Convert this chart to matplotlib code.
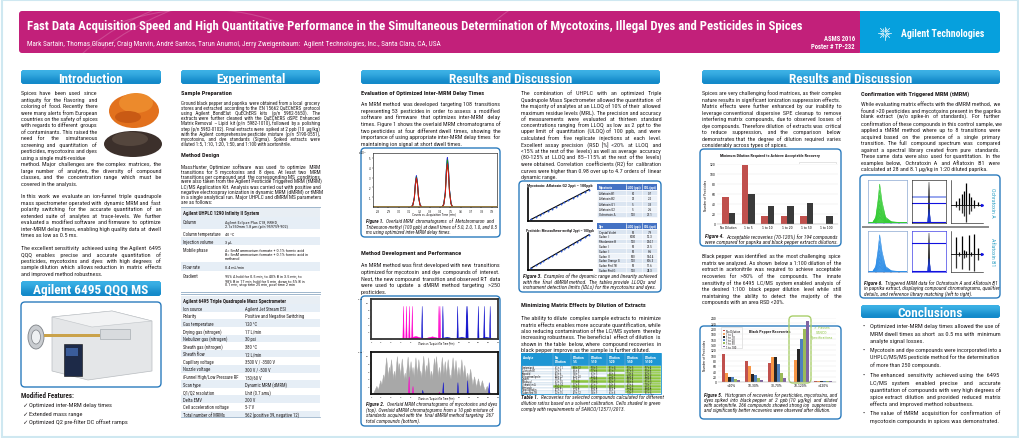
import math
import matplotlib
matplotlib.use('Agg')
import matplotlib.pyplot as plt
from matplotlib.patches import Rectangle, FancyBboxPatch, Ellipse, Polygon, Arc
from matplotlib.font_manager import FontProperties, fontManager
from functools import lru_cache

W, H = 1020, 439

fig4_cats = ['No Dilution', '1 to 5', '1 to 10', '1 to 20', '1 to 50', '1 to 100']
fig4_paprika = [55, 118, 16, 16, 16, 0]
fig4_pepper = [23, 61, 36, 36, 42, 16]

fig5_bins = ['<10%', '10-30%', '30-70%', '70-120%', '>120%']
fig5_series = ['No Dilution', '1 to 5', '1 to 10', '1 to 20', '1 to 50', '1 to 100']
fig5_no_dil = [106, 78, 71, 1, 4]
fig5_1to5 = [33, 60, 95, 81, 4]
fig5_1to10 = [19, 30, 94, 125, 4]
fig5_1to20 = [17, 28, 66, 160, 4]
fig5_1to50 = [11, 14, 33, 198, 4]
fig5_1to100 = [9, 9, 14, 229, 4]
fig5_colors = ['#c0504d', '#f79646', '#262626', '#4f81bd', '#9bbb59', '#8064a2']

fig1_dwell = ['5.0 ms', '2.0 ms', '1.0 ms', '0.5 ms']
fig1_colors = ['#5a5a9a', '#2222dd', '#119911', '#e01010']
fig1_rt = [3.17, 3.47]
fig1_h_meto = [3.15, 3.2, 3.05, 2.95]
fig1_h_trib = [5.0, 5.05, 4.8, 4.4]
fig1_prof_dt = [-0.05, -0.035, -0.02, -0.01, 0.0, 0.01, 0.02, 0.035, 0.05]
fig1_prof_y = [0.0, 0.06, 0.3, 0.75, 1.0, 0.78, 0.35, 0.07, 0.0]

fig2_top_myco_rt = [4.33, 4.63, 4.93, 5.23, 7.96, 8.06]
fig2_top_myco_h = [0.9, 0.9, 0.9, 0.9, 0.9, 0.9]
fig2_top_dye_rt = [6.24, 8.36, 9.87, 10.78, 10.88, 11.99, 12.6, 13.2]
fig2_top_dye_h = [0.9, 0.9, 0.9, 0.9, 0.9, 0.9, 0.9, 0.9]
fig2_bot_pest_rt = [1.6, 2.0, 2.3, 2.6, 2.9, 3.1, 3.4, 3.7, 3.9, 4.2, 4.5, 4.8, 5.1, 5.3,
                    5.6, 5.9, 6.1, 6.4, 6.7, 6.9, 7.2, 7.5, 7.7, 8.0, 8.3, 8.6, 8.9, 9.1,
                    9.4, 9.7, 10.0, 10.3, 10.6, 10.9, 11.2, 11.6, 12.0, 12.4, 12.9]
fig2_bot_pest_h = [0.2, 0.35, 0.5, 0.95, 0.7, 0.9, 0.6, 0.98, 0.8, 0.92, 0.55, 0.97, 0.85,
                   0.7, 0.95, 0.9, 0.6, 0.99, 0.75, 0.95, 0.6, 0.93, 0.98, 0.7, 0.96, 0.85,
                   0.9, 0.5, 0.95, 0.88, 0.7, 0.9, 0.75, 0.55, 0.65, 0.45, 0.4, 0.35, 0.2]
fig2_bot_myco_rt = [4.9, 5.3, 8.0]
fig2_bot_myco_h = [0.45, 0.2, 0.05]
fig2_bot_dye_rt = [6.3, 8.4, 9.9, 10.9, 13.1]
fig2_bot_dye_h = [0.1, 0.3, 0.3, 0.35, 0.3]

fig3_conc = [0.002, 0.005, 0.01, 0.02, 0.05, 0.1, 0.2, 0.5, 1, 2, 5, 10, 20, 50, 100]
fig3_resp_afla = [0.0021, 0.0048, 0.0103, 0.0196, 0.051, 0.098, 0.205, 0.49, 1.02, 1.97, 5.1, 9.8, 20.4, 49, 101]
fig3_resp_meso = [0.0019, 0.0052, 0.0098, 0.0204, 0.049, 0.102, 0.196, 0.51, 0.98, 2.03, 4.9, 10.2, 19.6, 51, 99]
myco_tab = [('Aflatoxin B1', '10', '0.7'), ('Aflatoxin B2', '20', '2.2'), ('Aflatoxin G1', '5', '3.3'),
            ('Aflatoxin G2', '5', '2.6'), ('Ochratoxin A', '120', '27.1')]
dye_tab = [('Crystal Violet', '50', '7.9'), ('Sudan II', '1000', '12.3'), ('Rhodamine B', '120', '204.1'),
           ('Sudan I', '50', '21.5'), ('Sudan II', '50', '8.6'), ('Sudan III', '500', '154.4'),
           ('Sudan Orange G', '120', '106.3'), ('Sudan Red 7B', '50', '11.6'), ('Sudan Red G', '120', '24.3')]

rec_analytes = ['Acetamiprid', 'Aflatoxin B1', 'Boscalid', 'Chlorantraniliprole', 'Linuron',
                'Metalaxyl', 'Ochratoxin A', 'Pirimicarb', 'Pyraclostrobin', 'Sudan Red 7B']
rec_values = [['61 ± 11', '88 ± 12', '90 ± 3', '81 ± 4', '93 ± 5', '97 ± 4'],
              ['52 ± 9', '66 ± 8', '77 ± 6', '81 ± 7', '87 ± 5', '95 ± 6'],
              ['43 ± 6', '58 ± 7', '63 ± 5', '68 ± 8', '74 ± 6', '82 ± 5'],
              ['48 ± 12', '62 ± 10', '69 ± 6', '73 ± 7', '84 ± 9', '92 ± 8'],
              ['55 ± 8', '67 ± 7', '72 ± 6', '80 ± 5', '86 ± 4', '90 ± 6'],
              ['63 ± 10', '71 ± 8', '75 ± 6', '82 ± 7', '88 ± 6', '91 ± 5'],
              ['36 ± 14', '57 ± 9', '61 ± 7', '64 ± 8', '69 ± 6', '78 ± 7'],
              ['74 ± 6', '79 ± 5', '85 ± 4', '88 ± 4', '92 ± 3', '95 ± 4'],
              ['41 ± 11', '52 ± 9', '60 ± 8', '66 ± 7', '72 ± 6', '85 ± 5'],
              ['32 ± 15', '49 ± 12', '58 ± 9', '63 ± 8', '74 ± 7', '81 ± 6']]
rec_green = [[0, 1, 1, 1, 1, 1], [0, 0, 1, 1, 1, 1], [0, 0, 0, 0, 1, 1], [0, 0, 0, 1, 1, 1],
             [0, 0, 1, 1, 1, 1], [0, 1, 1, 1, 1, 1], [0, 0, 0, 0, 0, 1], [1, 1, 1, 1, 1, 1],
             [0, 0, 0, 0, 1, 1], [0, 0, 0, 0, 1, 1]]

f6_x = [0.0, 0.12, 0.2, 0.26, 0.3, 0.36, 0.45, 0.6, 1.0]
f6_y = [0.0, 0.01, 0.15, 0.6, 1.0, 0.55, 0.15, 0.03, 0.0]
f6_h = [0.95, 0.8, 0.68, 0.55, 0.45, 0.35, 0.25, 0.15]
f6_spec_mz = [0.15, 0.25, 0.33, 0.4, 0.48, 0.55, 0.62, 0.72, 0.85]
f6_spec_ochra = [0.15, 0.3, 0.45, 0.6, 0.95, 0.5, 0.35, 0.2, 0.1]
f6_spec_afla = [0.8, 0.1, 0.85, 0.2, 0.15, 0.9, 0.1, 0.95, 0.3]

# ---------------- fonts ----------------
avail = {f.name for f in fontManager.ttflist}
NARROW = next((f for f in ['Liberation Sans Narrow', 'Roboto Condensed', 'Open Sans Condensed']
               if f in avail), 'DejaVu Sans')
FAMS = [NARROW, 'DejaVu Sans']
TXT = '#231f20'

fig = plt.figure(figsize=(W / 100, H / 100), dpi=100)
fig.patch.set_facecolor('white')
bg = fig.add_axes([0, 0, 1, 1])
bg.set_xlim(0, W)
bg.set_ylim(H, 0)
bg.axis('off')
R = fig.canvas.get_renderer()


@lru_cache(maxsize=None)
def fp(size, bold=False, italic=False):
    return FontProperties(family=FAMS, size=size, weight='bold' if bold else 'normal',
                          style='italic' if italic else 'normal')


def tw(s, p):
    return R.get_text_width_height_descent(s, p, ismath=False)[0]


def put(x, y, s, size, bold=False, italic=False, color=TXT, ha='left', maxw=None, rot=0, ax=None):
    p = fp(size, bold, italic)
    if maxw is not None:
        w = tw(s, p)
        if w > maxw:
            p = fp(round(size * maxw / w, 3), bold, italic)
    tgt = ax if ax is not None else bg
    if rot:
        return tgt.text(x, y, s, fontproperties=p, color=color, ha=ha, va='center', rotation=rot)
    return tgt.text(x, y + 0.5 * p.get_size(), s, fontproperties=p, color=color, ha=ha, va='baseline')


def spaced(words, extra):
    # join words, spreading `extra` additional spaces evenly over the gaps
    gaps = len(words) - 1
    out = words[0]
    for i in range(gaps):
        n = 1 + (i + 1) * extra // gaps - i * extra // gaps
        out += ' ' * n + words[i + 1]
    return out


def block(lines, x0, x1, y, pitch, size, bold=False, italic=False, color=TXT, justify=True, lead_bold=0):
    s = size
    for ln in lines:
        if ln:
            w = tw(ln, fp(size, bold, italic))
            if w > x1 - x0:
                s = min(s, size * (x1 - x0) / w)
    s = round(s, 3)
    p = fp(s, bold, italic)
    sp = tw('a a', p) - tw('aa', p)
    for i, ln in enumerate(lines):
        if not ln:
            continue
        yy = y + i * pitch + 0.5 * s
        last = i == len(lines) - 1 or lines[i + 1] == ''
        words = ln.split()
        x = x0
        if i == 0 and lead_bold:
            pb = fp(s, True, italic)
            pre = ' '.join(words[:lead_bold])
            bg.text(x, yy, pre, fontproperties=pb, color=color, ha='left', va='baseline')
            x += tw(pre + '  ', pb)
            words = words[lead_bold:]
        txt = ' '.join(words)
        if justify and not last and len(words) > 1:
            extra = int(round((x1 - x - tw(txt, p)) / sp))
            if 0 < extra <= 4 * (len(words) - 1):
                txt = spaced(words, extra)
        bg.text(x, yy, txt, fontproperties=p, color=color, ha='left', va='baseline')


def px_axes(x0, y0, x1, y1):
    return fig.add_axes([x0 / W, 1 - y1 / H, (x1 - x0) / W, (y1 - y0) / H])


def section(x0, x1, y0, y1, label):
    patch = FancyBboxPatch((x0, y0), x1 - x0, y1 - y0, boxstyle='round,pad=0,rounding_size=3',
                           fc='#1a98d5', ec='none')
    bg.add_patch(patch)
    im = bg.imshow([[0.0], [1.0]], extent=(x0, x1, y1, y0), cmap=matplotlib.colors.LinearSegmentedColormap.from_list(
        'b', ['#3db2e6', '#1288c8']), aspect='auto', interpolation='bicubic', zorder=2)
    im.set_clip_path(patch)
    t = put((x0 + x1) / 2, (y0 + y1) / 2, label, 9.5, bold=True, color='white', ha='center')
    t.set_zorder(3)


def fig_box(x0, y0, x1, y1):
    bg.add_patch(FancyBboxPatch((x0, y0), x1 - x0, y1 - y0, boxstyle='round,pad=0,rounding_size=4',
                                fc='white', ec='#2b7bbd', lw=1.0))


def tiny_axes(ax, fs=2.0):
    ax.tick_params(labelsize=fs, length=1, width=0.3, pad=0.6)
    for sp_ in ax.spines.values():
        sp_.set_linewidth(0.4)


# ---------------- frame & header ----------------
bg.add_patch(Rectangle((2, 1), W - 4, H - 2, fc='white', ec='#cfe8f1', lw=1.5))
hdr = FancyBboxPatch((19, 12), 843, 42, boxstyle='round,pad=0,rounding_size=3', fc='#c2207a', ec='none')
bg.add_patch(hdr)
for cx, cy, rw, a0, a1 in [(300, 140, 520, 200, 300), (340, 160, 600, 205, 290), (620, 120, 560, 210, 300),
                           (660, 90, 400, 200, 320), (200, 100, 300, 220, 320)]:
    arc = Arc((cx, cy), rw, rw * 0.6, theta1=a0, theta2=a1, color='white', alpha=0.18, lw=0.8, zorder=2)
    bg.add_patch(arc)
    arc.set_clip_path(hdr)
bg.add_patch(FancyBboxPatch((862, 12), 138, 42, boxstyle='round,pad=0,rounding_size=3', fc='#06a0dd', ec='none'))
bg.add_patch(Rectangle((860, 12), 6, 42, fc='#06a0dd', ec='none'))
put(27, 25, 'Fast Data Acquisition Speed and High Quantitative Performance in the Simultaneous Determination '
    'of Mycotoxins, Illegal Dyes and Pesticides in Spices', 11, bold=True, color='white', maxw=772).set_zorder(4)
put(27, 43, 'Mark Sartain, Thomas Glauner, Craig Marvin, André Santos, Tarun Anumol, Jerry Zweigenbaum:  '
    'Agilent Technologies, Inc., Santa Clara, CA, USA', 5.2, color='white', maxw=443).set_zorder(4)
put(855, 38.5, 'ASMS 2016', 4.8, bold=True, color='white', ha='right').set_zorder(4)
put(855, 47, 'Poster # TP-232', 4.8, bold=True, color='white', ha='right').set_zorder(4)
for k in range(16):
    ang = k * math.pi / 8
    r0, r1 = (1.5, 6.5) if k % 2 == 0 else (2.0, 4.5)
    bg.plot([885 + r0 * math.cos(ang), 885 + r1 * math.cos(ang)],
            [34 + r0 * math.sin(ang), 34 + r1 * math.sin(ang)], color='white', lw=0.5, zorder=4)
put(901, 34, 'Agilent Technologies', 7.5, bold=True, color='white', maxw=82).set_zorder(4)

# ---------------- section headers ----------------
section(21, 161, 71, 85, 'Introduction')
section(181, 320, 71, 85, 'Experimental')
section(361, 660, 71, 85, 'Results and Discussion')
section(702, 1000, 71, 85, 'Results and Discussion')
section(21, 161, 282, 297, 'Agilent 6495 QQQ MS')
section(861, 1000, 306, 319, 'Conclusions')

# ---------------- column 1: introduction ----------------
block(['Spices have been used since', 'antiquity for the flavoring and', 'coloring of food. Recently there',
       'were many alerts from European', 'countries on the safety of spices', 'with regards to different groups',
       'of contaminants. This raised the', 'need for the simultaneous', 'screening and quantitation of',
       'pesticides, mycotoxins and dyes', 'using a single multi-residue'], 21, 97, 93, 6.45, 4.6)
block(['method.  Major challenges are the complex matrices, the',
       'large number of analytes, the diversity of compound',
       'classes, and the concentration range which must be', 'covered in the analysis.', '',
       'In this work we evaluate an ion-funnel triple quadrupole',
       'mass spectrometer operated with dynamic MRM and fast',
       'polarity switching for the accurate quantitation of an',
       'extended suite of analytes at trace-levels.  We further',
       'evaluated a modified software and firmware to optimize',
       'inter-MRM delay times, enabling high quality data at dwell', 'times as low as 0.5 ms.', '',
       'The excellent sensitivity achieved using the Agilent 6495',
       'QQQ enables precise and accurate quantitation of',
       'pesticides, mycotoxins and dyes with high degrees of',
       'sample dilution which allows reduction in matrix effects',
       'and improved method robustness.'], 21, 161, 164, 6.45, 4.6)
# spice photo
bg.add_patch(Ellipse((134, 112), 50, 34, fc='#e2711d', ec='none'))
bg.add_patch(Ellipse((136, 104), 34, 20, fc='#ec8a2c', ec='none'))
bg.add_patch(Ellipse((128, 118), 26, 12, fc='#c95a14', ec='none'))
bg.add_patch(Ellipse((133, 145), 58, 26, fc='#3c302b', ec='none'))
bg.add_patch(Ellipse((130, 140), 36, 14, fc='#54463d', ec='none'))
# instrument image
fig_box(21, 303, 161, 388)
bg.add_patch(Polygon([(52, 318), (112, 312), (152, 322), (152, 372), (88, 381), (52, 372)], fc='#e4e6e8', ec='#b8bcc0', lw=0.5))
bg.add_patch(Polygon([(52, 318), (112, 312), (152, 322), (92, 328)], fc='#f2f3f4', ec='#c0c4c8', lw=0.4))
bg.add_patch(Rectangle((64, 345), 18, 32, fc='#1d2a48', ec='#111', lw=0.4))
bg.add_patch(Rectangle((66, 349), 12, 8, fc='#3a5c9a', ec='none'))
bg.add_patch(Ellipse((36, 338), 16, 24, fc='#c9ccd0', ec='#7d8186', lw=0.6))
bg.add_patch(Ellipse((36, 338), 9, 14, fc='#eef0f2', ec='#7d8186', lw=0.5))
bg.add_patch(Rectangle((44, 335), 56, 3, fc='#caa24a', ec='none'))
bg.add_patch(Rectangle((100, 330), 30, 10, fc='#d8dbde', ec='#9aa0a6', lw=0.4))
put(21, 396, 'Modified Features:', 5.0, bold=True)
for i, s in enumerate(['Optimized inter-MRM delay times', 'Extended mass range',
                       'Optimized Q2 pre-filter DC offset ramps']):
    put(22, 405 + 8.5 * i, '\u2713', 4.6)
    put(29, 405 + 8.5 * i, s, 4.6)

# ---------------- column 2: experimental ----------------
put(181, 93, 'Sample Preparation', 4.6, bold=True)
block(['Ground black pepper and paprika were obtained from a local grocery',
       'stores and extracted according to the EN 15662 QuEChERS protocol',
       'using Agilent BondElut QuEChERS kits (p/n 5982-5650).  The',
       'extracts were further cleaned with the QuEChERS dSPE Enhanced',
       'Matrix Removal \u2013 Lipid kit (p/n 5982-1010), followed by a polishing',
       'step (p/n 5982-0102).  Final extracts were spiked at 2 ppb (10 µg/kg)',
       'with the Agilent comprehensive pesticide mixture (p/n 5190-0551),',
       'mycotoxins, and dye standards (Sigma).   Spiked extracts were',
       'diluted 1:5, 1:10, 1:20, 1:50, and 1:100 with acetonitrile.'], 181, 320, 103, 5.1, 4.0)
put(181, 155, 'Method Design', 4.6, bold=True)
block(['MassHunter Optimizer software was used to optimize MRM',
       'transitions for 5 mycotoxins and 8 dyes.   At least two MRM',
       'transitions per compound and the corresponding MS conditions',
       'were also taken from the Agilent Pesticide Triggered MRM (tMRM)',
       'LC/MS Application Kit.  Analysis was carried out with positive and',
       'negative electrospray ionization in dynamic MRM (dMRM) or tMRM',
       'in a single analytical run.  Major UHPLC and dMRM MS parameters',
       'are as follows:'], 181, 320, 167, 5.0, 4.0)

tab1 = [('Column', ['Agilent Eclipse Plus C18, RRHD,', '2.1x150mm 1.8 µm (p/n 959759-902)'], 218, 230),
        ('Column temperature', ['40 °C'], 230, 238),
        ('Injection volume', ['3 µL'], 238, 246),
        ('Mobile phase', ['A= 5mM ammonium formate + 0.1% formic acid',
                          'B= 5mM ammonium formate + 0.1% formic acid in', 'methanol'], 246, 263),
        ('Flow rate', ['0.4 mL/min'], 263, 272),
        ('Gradient', ['95% A hold for 0.5 min, to 40% B in 3.5 min, to',
                      '98% B in 17 min, hold for 5 min, down to 5% B in',
                      '0.1 min, stop time 25 min, post time 2 min'], 272, 292)]
bg.plot([181, 320], [208, 208], color='#9fb6cc', lw=0.7)
bg.add_patch(Rectangle((181, 209), 139, 9, fc='#e8eef4', ec='none'))
put(183, 213.5, 'Agilent UHPLC 1290 Infinity II System', 3.6, bold=True)
for i, (lab, vals, y0, y1) in enumerate(tab1):
    if i % 2 == 0:
        bg.add_patch(Rectangle((181, y0), 139, y1 - y0, fc='#e6eef6', ec='none'))
    ys = y0 + 4 if len(vals) > 1 else (y0 + y1) / 2
    put(183, ys, lab, 3.3, maxw=40)
    for j, v in enumerate(vals):
        put(225, ys + 4.3 * j, v, 3.1, maxw=94)
bg.plot([181, 320], [292.5, 292.5], color='#9fb6cc', lw=0.7)
bg.plot([181, 320], [294.5, 294.5], color='#9fb6cc', lw=0.7)

tab2 = [('Ion source', 'Agilent Jet Stream ESI'), ('Polarity', 'Positive and Negative Switching'),
        ('Gas temperature', '120 °C'), ('Drying gas (nitrogen)', '17 L/min'),
        ('Nebulizer gas (nitrogen)', '30 psi'), ('Sheath gas (nitrogen)', '380 °C'),
        ('Sheath flow', '12 L/min'), ('Capillary voltage', '3500 V / -3500 V'),
        ('Nozzle voltage', '300 V / -500 V'), ('iFunnel High/Low Pressure RF', '150/60 V'),
        ('Scan type', 'Dynamic MRM (dMRM)'), ('Q1/Q2 resolution', 'Unit (0.7 amu)'),
        ('Delta EMV', '200 V'), ('Cell acceleration voltage', '5-7 V'),
        ('Total number of MRMs', '562 (positive 39, negative 12)')]
bg.add_patch(Rectangle((181, 297), 139, 8, fc='#e8eef4', ec='none'))
put(183, 301, 'Agilent 6495 Triple Quadrupole Mass Spectrometer', 3.6, bold=True)
for i, (lab, val) in enumerate(tab2):
    yc = 309 + 7.6 * i
    if i % 2 == 0:
        bg.add_patch(Rectangle((181, yc - 3.8), 139, 7.6, fc='#e6eef6', ec='none'))
    put(183, yc, lab, 3.3, maxw=58)
    put(245, yc, val, 3.3, maxw=74)
bg.plot([181, 320], [418.5, 418.5], color='#9fb6cc', lw=0.6)

# ---------------- column 3 ----------------
put(361, 93, 'Evaluation of Optimized Inter-MRM Delay Times', 4.6, bold=True)
block(['An MRM method was developed targeting 108 transitions',
       'representing 53 pesticides in order to assess a modified',
       'software and firmware that optimizes inter-MRM delay',
       'times.  Figure 1 shows the overlaid MRM chromatograms of',
       'two pesticides at four different dwell times, showing the',
       'importance of using appropriate inter-MRM delay times for',
       'maintaining ion signal at short dwell times.'], 361, 500, 104, 6.6, 4.6)

fig_box(361, 149, 500, 238)
a1 = px_axes(373, 154, 497, 208)
for k in range(4):
    for rt, hh in zip(fig1_rt, [fig1_h_meto[k], fig1_h_trib[k]]):
        a1.plot([rt + d for d in fig1_prof_dt], [hh * v for v in fig1_prof_y], color=fig1_colors[k], lw=0.7)
a1.axhline(0.05, color='#8a6d2a', lw=2.0)
a1.set_xlim(2.75, 3.95)
a1.set_ylim(0, 5.5)
a1.set_xticks([2.8 + 0.1 * i for i in range(12)])
a1.set_xticklabels(['%.1f' % (2.8 + 0.1 * i) for i in range(12)])
a1.set_yticks([1, 2, 3, 4, 5])
tiny_axes(a1, 1.8)
a1.text(-0.06, 1.0, 'x10 \u00b3', transform=a1.transAxes, fontsize=1.8, ha='right')
put(434, 215, 'Counts vs. Acquisition Time (min)', 2.3, ha='center')
put(382, 158, 'Metobromuron', 2.6, color='#2b6cc4')
put(382, 162.5, '259.0 \u2192 170.0', 3.0, bold=True, color='#2b6cc4')
put(382, 168.5, 'Peak Area @ 0.5 ms', 2.0, color='#2b6cc4')
bg.plot([382, 401], [170.5, 170.5], color='#2b6cc4', lw=0.3)
put(382, 172.5, 'Peak Area @ 5.0 ms', 2.0, color='#2b6cc4')
put(403, 170.5, '= 0.94', 2.0, color='#2b6cc4')
put(452, 158, 'Tribenuron-methyl', 2.6, color='#2b6cc4')
put(452, 162.5, '396.0 \u2192 155.1', 3.0, bold=True, color='#2b6cc4')
put(452, 168.5, 'Peak Area @ 0.5 ms', 2.0, color='#2b6cc4')
bg.plot([452, 471], [170.5, 170.5], color='#2b6cc4', lw=0.3)
put(452, 172.5, 'Peak Area @ 5.0 ms', 2.0, color='#2b6cc4')
put(473, 170.5, '= 0.88', 2.0, color='#2b6cc4')
for k in range(4):
    bg.plot([472, 476], [187 + 5 * k, 187 + 5 * k], color=fig1_colors[k], lw=0.8)
    put(477.5, 187 + 5 * k, fig1_dwell[k], 2.8, color=fig1_colors[k])
block(['Figure 1.  Overlaid MRM chromatograms of Metobromuron and',
       'Tribenuron-methyl (100 ppb) at dwell times of 5.0, 2.0, 1.0, and 0.5',
       'ms using optimized inter-MRM delay times.'], 366, 494, 221.5, 5.4, 4.0, italic=True, lead_bold=2)

put(361, 253, 'Method Development and Performance', 4.6, bold=True)
block(['An MRM method was first developed with new transitions',
       'optimized for mycotoxin and dye compounds of interest.',
       'Next, the new compound transition and observed RT data',
       'were used to update a dMRM method targeting >250', 'pesticides.'], 361, 500, 265, 6.7, 4.6)

fig_box(361, 297, 500, 427)


def spikes(ax, rts, hs, color, hw):
    for rt, hh in zip(rts, hs):
        ax.fill([rt - hw, rt, rt + hw], [0, hh, 0], color=color, lw=0.3)


a2 = px_axes(371, 300, 498, 340)
spikes(a2, [5.6, 7.3], [0.07, 0.06], '#ff00cc', 0.9)
spikes(a2, [8.8, 10.3, 12.8], [0.05, 0.05, 0.05], '#1010cc', 0.7)
spikes(a2, fig2_top_myco_rt, fig2_top_myco_h, '#ff00cc', 0.07)
spikes(a2, fig2_top_dye_rt, fig2_top_dye_h, '#1010cc', 0.07)
a2.set_xlim(1, 14)
a2.set_ylim(0, 1.1)
a2.set_xticks(range(1, 15))
a2.set_yticks([0.2, 0.4, 0.6, 0.8, 1.0])
a2.set_yticklabels(['2', '4', '6', '8', '10'])
tiny_axes(a2, 1.6)
for s_ in a2.spines.values():
    s_.set_linewidth(1.3)
    s_.set_color('#333333')
a2.text(-0.06, 1.0, 'x10 \u2075', transform=a2.transAxes, fontsize=1.6, ha='right')
put(436, 344, 'Counts vs. Acquisition Time (min)', 2.0, ha='center')


def colored_title(x, y, parts, size):
    tot = sum(tw(s, fp(size)) for s, c in parts)
    xx = x - tot / 2
    for s, c in parts:
        bg.text(xx, y + 0.5 * size, s, fontproperties=fp(size), color=c, va='baseline', zorder=6)
        xx += tw(s, fp(size))


a3 = px_axes(371, 353, 498, 395)
spikes(a3, fig2_bot_pest_rt, fig2_bot_pest_h, '#a8a8a8', 0.35)
spikes(a3, fig2_bot_myco_rt, fig2_bot_myco_h, '#ff00cc', 0.07)
spikes(a3, fig2_bot_dye_rt, fig2_bot_dye_h, '#1010cc', 0.07)
a3.set_xlim(1, 14)
a3.set_ylim(0, 1.1)
a3.set_xticks(range(1, 15))
a3.set_yticks([0.2, 0.4, 0.6, 0.8, 1.0])
a3.set_yticklabels(['2', '4', '6', '8', '10'])
tiny_axes(a3, 1.6)
for s_ in a3.spines.values():
    s_.set_linewidth(1.3)
    s_.set_color('#111111')
a3.text(-0.06, 1.0, 'x10 \u2075', transform=a3.transAxes, fontsize=1.6, ha='right')
put(436, 399, 'Counts vs. Acquisition Time (min)', 2.0, ha='center')
colored_title(436, 303.5, [('MRM: ', '#111111'), ('5 Mycotoxins', '#ff00cc'), (', ', '#111111'),
                           ('8 Dyes', '#1010cc')], 2.9)
colored_title(436, 356.5, [('Final dMRM method: ', '#111111'), ('5 Mycotoxins', '#ff00cc'),
                           (', ', '#111111'), ('8 Dyes', '#1010cc'), (', 253 Pesticides', '#111111')], 2.9)
block(['Figure 2.  Overlaid MRM chromatograms of mycotoxins and dyes',
       '(top).  Overlaid dMRM chromatograms from a 10 ppb mixture of',
       'standards acquired with the final dMRM method targeting 267',
       'total compounds (bottom).'], 366, 494, 404, 5.6, 4.0, italic=True, lead_bold=2)

# ---------------- column 4 ----------------
block(['The combination of UHPLC with an optimized Triple',
       'Quadrupole Mass Spectrometer allowed the quantitation of',
       'the majority of analytes at an LLOQ of 10% of their allowed',
       'maximum residue levels (MRL). The precision and accuracy',
       'of measurements were evaluated at thirteen standard',
       'concentrations ranging from LLOQ as low as 2 ppt to the',
       'upper limit of quantitation (ULOQ) of 100 ppb, and were',
       'calculated from five replicate injections at each level.',
       'Excellent assay precision (RSD [%] <20% at LLOQ and',
       '<15% at the rest of the levels) as well as average accuracy',
       '(80-125% at LLOQ and 85\u2013115% at the rest of the levels)',
       'were obtained. Correlation coefficients (R2) for calibration',
       'curves were higher than 0.98 over up to 4.7 orders of linear',
       'dynamic range.'], 521, 661, 93, 6.46, 4.6)

fig_box(519, 182, 661, 293)
for (y0, y1, resp, title) in [(189, 222, fig3_resp_afla, 'Mycotoxin: Aflatoxin G2 2ppt \u2013 100ppb'),
                              (234, 271, fig3_resp_meso, 'Pesticide: Mesosulfuron-methyl 2ppt \u2013 100ppb')]:
    a = px_axes(528, y0, 592, y1)
    a.plot([fig3_conc[0], fig3_conc[-1]], [fig3_conc[0], fig3_conc[-1]], color='black', lw=0.8)
    a.plot(fig3_conc, resp, 'o', ms=1.4, color='#2f5bd8', mew=0)
    a.set_xscale('log')
    a.set_yscale('log')
    a.set_xticks([])
    a.set_yticks([])
    a.minorticks_off()
    a.spines['top'].set_visible(False)
    a.spines['right'].set_visible(False)
    a.spines['left'].set_linewidth(1.2)
    a.spines['bottom'].set_linewidth(1.2)
    put(560, y0 - 3, title, 3.0, bold=True, ha='center', maxw=68)


def small_table(x0, y0, hdr, rows, rh, hh):
    bg.add_patch(Rectangle((x0, y0), 60, hh, fc='#4472c4', ec='none'))
    put(x0 + 2, y0 + hh / 2, hdr[0], 2.4, bold=True, color='white')
    put(x0 + 36, y0 + hh / 2, hdr[1], 2.4, bold=True, color='white', ha='center')
    put(x0 + 53, y0 + hh / 2, hdr[2], 2.4, bold=True, color='white', ha='center')
    for i, (n, a, b) in enumerate(rows):
        yy = y0 + hh + i * rh
        bg.add_patch(Rectangle((x0, yy), 60, rh, fc='#dbe5f1' if i % 2 == 0 else '#eef3f9',
                               ec='white', lw=0.4))
        put(x0 + 2, yy + rh / 2, n, 2.3)
        put(x0 + 36, yy + rh / 2, a, 2.3, ha='center')
        put(x0 + 53, yy + rh / 2, b, 2.3, ha='center')
    bg.plot([x0 + 29, x0 + 29], [y0, y0 + hh + rh * len(rows)], color='white', lw=0.4)
    bg.plot([x0 + 45, x0 + 45], [y0, y0 + hh + rh * len(rows)], color='white', lw=0.4)


small_table(597, 185, ('Mycotoxin', 'LLOQ (ppt)', 'IDL (ppt)'), myco_tab, 5.4, 6)
small_table(597, 224, ('Dye', 'LLOQ (ppt)', 'IDL (ppt)'), dye_tab, 4.8, 6)
block(['Figure 3.  Examples of the dynamic range and linearity achieved',
       'with the final dMRM method.  The tables provide LLOQs and',
       'instrument detection limits (IDLs) for the mycotoxins and dyes.'], 523, 656, 276, 5.6, 4.0,
      italic=True, lead_bold=2)

put(521, 305, 'Minimizing Matrix Effects by Dilution of Extracts', 4.6, bold=True)
block(['The ability to dilute complex sample extracts to minimize',
       'matrix effects enables more accurate quantification, while',
       'also reducing contamination of the LC/MS system thereby',
       'increasing robustness.  The beneficial effect of dilution is',
       'shown in the table below, where compound recoveries in',
       'black pepper improve as the sample is further diluted.'], 521, 661, 318, 6.4, 4.6)

# recovery table
cx = [521, 553, 571, 589, 607, 625, 643, 661]
bg.add_patch(Rectangle((521, 354), 140, 13, fc='#1e96d4', ec='none'))
hdrs = [['Analyte'], ['No', 'Dilution'], ['Dilution', '1:5'], ['Dilution', '1:10'], ['Dilution', '1:20'],
        ['Dilution', '1:50'], ['Dilution', '1:100']]
for j, hl in enumerate(hdrs):
    for k, s in enumerate(hl):
        put(cx[j] + 1.5, 357.5 + 4 * k, s, 2.7, bold=True, color='white')
rh = 2.75
for i, name in enumerate(rec_analytes):
    yy = 367 + i * rh
    bg.add_patch(Rectangle((521, yy), 140, rh, fc='white', ec='#9bbbd9', lw=0.25))
    put(522, yy + rh / 2, name, 2.0, maxw=31)
    for j in range(6):
        if rec_green[i][j]:
            bg.add_patch(Rectangle((cx[j + 1], yy), 18, rh, fc='#8dc63f', ec='white', lw=0.25))
        put(cx[j + 1] + 2, yy + rh / 2, rec_values[i][j], 1.9)
for x in cx[1:-1]:
    bg.plot([x, x], [354, 367 + 10 * rh], color='#9bbbd9', lw=0.3)
bg.add_patch(Rectangle((521, 354), 140, 13 + 10 * rh, fc='none', ec='#1e96d4', lw=0.6))
block(['Table 1.  Recoveries for selected compounds calculated for different',
       'dilution ratios based on a solvent calibration.  Cells shaded in green',
       'comply with requirements of SANCO/12571/2013.'], 521, 661, 397.5, 5.6, 4.0,
      italic=True, lead_bold=2)

# ---------------- column 5 ----------------
block(['Spices are very challenging food matrices, as their complex',
       'nature results in significant ionization suppression effects.',
       'Matrix effects were further enhanced by our inability to',
       'leverage conventional dispersive SPE cleanup to remove',
       'interfering matrix compounds, due to observed losses of',
       'dye compounds. Therefore dilution of extracts was critical',
       'to reduce suppression, and the comparison below',
       'demonstrates that the degree of dilution required varies',
       'considerably across types of spices.'], 702, 841, 93, 6.5, 4.6)

fig_box(700, 150, 841, 247)
put(770, 155.5, 'Minimum Dilution Required to Achieve Acceptable Recovery', 3.0, bold=True, ha='center', maxw=130)
a4 = px_axes(717, 165, 838, 225)
xs = list(range(len(fig4_cats)))
a4.bar([x - 0.17 for x in xs], fig4_paprika, width=0.32, color='#c0504d')
a4.bar([x + 0.17 for x in xs], fig4_pepper, width=0.32, color='#3a3a3a')
a4.set_ylim(0, 120)
a4.set_xlim(-0.6, 5.6)
a4.set_yticks(range(0, 121, 20))
a4.set_xticks(xs)
a4.set_xticklabels(fig4_cats)
a4.tick_params(labelsize=2.2, length=0, pad=1)
for k, s_ in a4.spines.items():
    s_.set_visible(k == 'bottom')
    s_.set_linewidth(0.3)
    s_.set_color('#999999')
a4.grid(axis='y', color='#e4e4e4', lw=0.3)
a4.set_axisbelow(True)
put(706, 195, 'Number of Pesticides', 2.6, rot=90, ha='center')
bg.add_patch(Rectangle((799, 163), 37, 21, fc='white', ec='#cfcfcf', lw=0.4, zorder=5))
for k, (lab, col) in enumerate([('Paprika', '#c0504d'), ('Black Pepper', '#3a3a3a')]):
    bg.add_patch(Rectangle((802, 167 + 8 * k), 2.2, 2.2, fc=col, ec='none', zorder=6))
    put(806, 168 + 8 * k, lab, 3.2).set_zorder(6)
block(['Figure 4.  Acceptable recoveries (70-120%) for 194 compounds',
       'were compared for paprika and black pepper extracts dilutions.'], 705, 837, 236.5, 5.6, 4.0,
      italic=True, lead_bold=2)

block(['Black pepper was identified as the most challenging spice',
       'matrix we analyzed.  As shown below a 1:100 dilution of the',
       'extract in acetonitrile was required to achieve acceptable',
       'recoveries for >80% of the compounds.  The innate',
       'sensitivity of the 6495 LC/MS system enabled analysis of',
       'the desired 1:100 black pepper dilution level while still',
       'maintaining the ability to detect the majority of the',
       'compounds with an area RSD <20%.'], 702, 841, 256, 6.6, 4.6)

fig_box(700, 327, 841, 420)
put(770, 332, 'Black Pepper Recoveries', 3.0, bold=True, ha='center')
a5 = px_axes(718, 319, 836, 383)
series5 = [fig5_no_dil, fig5_1to5, fig5_1to10, fig5_1to20, fig5_1to50, fig5_1to100]
bw = 0.13
for k, vals in enumerate(series5):
    a5.bar([i + (k - 2.5) * bw for i in range(len(fig5_bins))], vals, width=bw * 0.92,
           color=fig5_colors[k], label=fig5_series[k])
a5.set_ylim(0, 240)
a5.set_xlim(-0.55, 4.55)
a5.set_yticks(range(0, 241, 20))
a5.set_xticks(range(len(fig5_bins)))
a5.set_xticklabels(fig5_bins)
a5.tick_params(labelsize=2.2, length=0, pad=1)
for k, s_ in a5.spines.items():
    s_.set_visible(k == 'bottom')
    s_.set_linewidth(0.3)
    s_.set_color('#999999')
a5.grid(axis='y', color='#e4e4e4', lw=0.3)
a5.set_axisbelow(True)
a5.patch.set_alpha(0)
put(705, 355, 'Number of Pesticides', 2.6, rot=90, ha='center')
bg.add_patch(Rectangle((721, 328), 21, 21, fc='white', ec='#cfcfcf', lw=0.4, zorder=5))
for k, lab in enumerate(fig5_series):
    bg.add_patch(Rectangle((723, 330.5 + 3.2 * k), 1.8, 1.8, fc=fig5_colors[k], ec='none', zorder=6))
    put(726, 331.4 + 3.2 * k, lab, 2.3).set_zorder(6)
bg.add_patch(FancyBboxPatch((789, 317), 22, 67, boxstyle='round,pad=0,rounding_size=4', fc='none',
                            ec='#a9cf6a', lw=1.0, zorder=6))
put(822, 327.5, '\u2713 Passes', 2.9, color='#8dc63f', ha='center')
put(822, 332.5, 'SANCO', 2.9, color='#8dc63f', ha='center')
put(822, 337.5, 'Specifications', 2.9, color='#8dc63f', ha='center')
block(['Figure 5.  Histogram of recoveries for pesticides, mycotoxins, and',
       'dyes  spiked into black pepper at 2 ppb (10 µg/kg) and diluted',
       'with acetonitrile.  266 compounds showed strong ion suppression',
       'and significantly better recoveries were observed after dilution.'], 704, 837, 395, 5.0, 3.8,
      italic=True, lead_bold=2)

# ---------------- column 6 ----------------
put(861, 93, 'Confirmation with Triggered MRM (tMRM)', 4.6, bold=True)
block(['While evaluating matrix effects with the dMRM method, we',
       'found >20 pesticides and mycotoxins present in the paprika',
       'blank extract (w/o spike-in of standards).  For further',
       'confirmation of these compounds in this control sample, we',
       'applied a tMRM method where up to 8 transitions were',
       'acquired based on the presence of a single primary',
       'transition.   The full compound spectrum was compared',
       'against a spectral library created from pure standards.',
       'These same data were also used for quantitation.  In the',
       'examples below, Ochratoxin A and Aflatoxin B1 were',
       'calculated at 28 and 8.1 µg/kg in 1:20 diluted paprika.'], 861, 1000, 104, 6.5, 4.6)

fig_box(860, 176, 1000, 299)
for row, (y0, y1, col, spec, name) in enumerate([(181, 224, '#33cc33', f6_spec_ochra, 'Ochratoxin A'),
                                                 (232, 273, '#2f8fe8', f6_spec_afla, 'Aflatoxin B1')]):
    ac = px_axes(868, y0, 907, y1)
    for hh in f6_h:
        ac.fill(f6_x, [hh * v for v in f6_y], color=col, alpha=0.25, lw=0.4)
        ac.plot(f6_x, [hh * v for v in f6_y], color=col, lw=0.4)
    ac.set_xlim(0, 1)
    ac.set_ylim(0, 1.05)
    ac.set_xticks([0.2, 0.4, 0.6, 0.8])
    ac.set_yticks([])
    tiny_axes(ac, 1.2)
    ac.set_xticklabels([])
    for s_ in ac.spines.values():
        s_.set_color('#6f93c6')
    bg.add_patch(Rectangle((886, y0 + 2), 19, 8, fc='white', ec='black', lw=0.5, zorder=6))
    for k in range(4):
        bg.plot([888, 903], [y0 + 3.8 + 1.5 * k] * 2, color=['#33cc33', '#ff4444', '#3355ff', '#ffaa00'][k],
                lw=0.5, ls=(0, (1, 1)), zorder=7)
    aq = px_axes(912, y0, 946, y1)
    aq.axhspan(0.6, 0.66, color='#9aa8ee' if row == 0 else '#ffffff', lw=0)
    aq.axhline(0.48 if row == 0 else 0.75, color='#1010e0', lw=0.8)
    aq.axhline(0.02, color='#1010e0', lw=0.8)
    aq.fill([0.47, 0.5, 0.53], [0, 1.0, 0], color='black', lw=0.3)
    aq.fill([0.45, 0.5, 0.56], [0, 0.35, 0], color='#1a3ad0', lw=0.3)
    aq.set_xlim(0, 1)
    aq.set_ylim(0, 1.05)
    aq.set_xticks([])
    aq.set_yticks([])
    tiny_axes(aq)
    if row == 1:
        for s_ in aq.spines.values():
            s_.set_color('#1010e0')
    asp = px_axes(951, y0, 983, y1)
    asp.vlines(f6_spec_mz, 0.45, [0.45 + 0.55 * v for v in spec], color='black', lw=0.9)
    asp.vlines(f6_spec_mz, [0.45 - 0.45 * v for v in spec], 0.45, color='#333333', lw=0.9)
    asp.axhline(0.45, color='black', lw=0.6)
    asp.plot([0.97], [0.45], marker='>', ms=1.5, color='#1010e0')
    asp.set_xlim(0, 1)
    asp.set_ylim(0, 1.05)
    asp.set_xticks([])
    asp.set_yticks([])
    tiny_axes(asp)
    for s_ in ['top', 'right']:
        asp.spines[s_].set_visible(False)
    put(993, (y0 + y1) / 2, name, 4.2, color='#3aa6c8', rot=270, ha='center')
bg.plot([863, 988], [228, 228], color='#8a8a8a', lw=1.4)
block(['Figure 6.  Triggered MRM data for Ochratoxin A and Aflatoxin B1',
       'in paprika extract, displaying compound chromatograms, qualifier',
       'details, and reference library matching (left to right).'], 864, 996, 283, 5.4, 4.0,
      italic=True, lead_bold=2)

concl = [['Optimized inter-MRM delay times allowed the use of', 'MRM dwell times as short as 0.5 ms with minimum',
          'analyte signal losses.'],
         ['Mycotoxin and dye compounds were incorporated into a',
          'UHPLC/MS/MS pesticide method for the determination', 'of more than 250 compounds.'],
         ['The enhanced sensitivity achieved using the 6495', 'LC/MS system enabled precise and accurate',
          'quantitation of compounds with very high degrees of', 'spice extract dilution and provided reduced matrix',
          'effects and improved method robustness.'],
         ['The value of tMRM acquisition for confirmation of', 'mycotoxin compounds in spices was demonstrated.']]
for lines, y in zip(concl, [326, 350, 375, 413]):
    put(863, y, '\u2022', 4.6)
    block(lines, 870, 1000, y, 7.3, 4.6)

bg.set_xlim(0, W)
bg.set_ylim(H, 0)
fig.savefig('out.png', dpi=100)
